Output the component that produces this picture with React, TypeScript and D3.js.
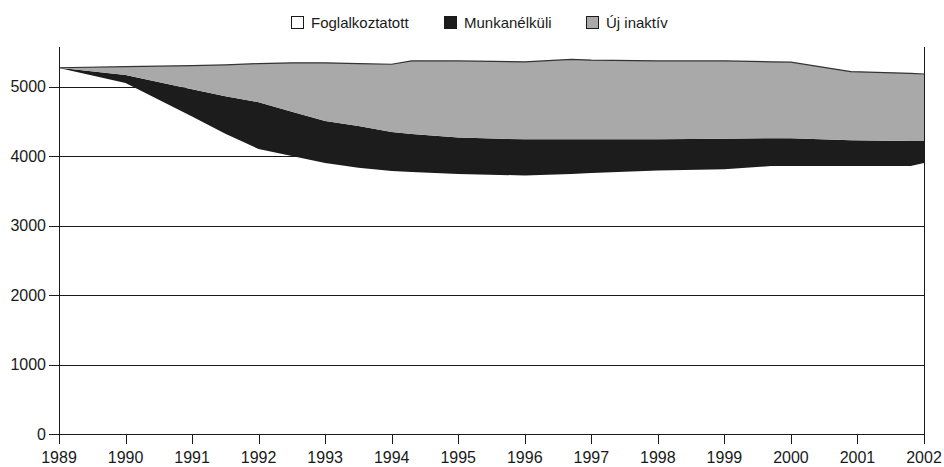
import React, { useEffect, useRef } from "react";
import * as d3 from "d3";

// readings (thousand persons), stacked bottom to top
const years = [1989, 1990, 1991, 1991.5, 1992, 1992.5, 1993, 1993.5, 1994, 1994.3, 1995, 1996, 1996.7, 1997, 1998, 1999, 1999.7, 2000, 2000.9, 2001.8, 2002];
const employed = [5265, 5050, 4570, 4320, 4100, 4000, 3900, 3830, 3785, 3770, 3740, 3720, 3740, 3755, 3790, 3810, 3855, 3855, 3855, 3855, 3900];
const unemployed = [5, 115, 390, 540, 675, 635, 605, 600, 560, 545, 525, 520, 500, 485, 450, 440, 400, 400, 370, 360, 315];
const inactive = [0, 120, 340, 450, 555, 705, 835, 900, 975, 1055, 1103, 1115, 1150, 1140, 1128, 1118, 1100, 1095, 990, 975, 965];

const seriesKeys = ["employed", "unemployed", "inactive"];
const seriesNames = ["Foglalkoztatott", "Munkanélküli", "Új inaktív"];
const seriesColors = ["#ffffff", "#1c1c1c", "#a9a9a9"];

const xTicks = d3.range(1989, 2003);
const yTicks = [0, 1000, 2000, 3000, 4000, 5000];

const WIDTH = 944;
const HEIGHT = 467;
const FONT = "'Liberation Sans', Arial, sans-serif";

export default function App() {
  const ref = useRef<SVGSVGElement>(null);

  useEffect(() => {
    const svg = d3.select(ref.current);
    svg.selectAll("*").remove();

    const left = 59;
    const right = 924;
    const top = 47;
    const bottom = 434;

    const table = years.map((yr, i) => ({
      year: yr,
      employed: employed[i],
      unemployed: unemployed[i],
      inactive: inactive[i],
    }));

    const stacked = d3.stack<any>().keys(seriesKeys)(table);

    const x = d3.scaleLinear().domain([1989, 2002]).range([left, right]);
    const y = d3.scaleLinear().domain([0, 5000]).range([bottom, 86.5]);

    const area = d3
      .area<any>()
      .x((d) => x(d.data.year))
      .y0((d) => y(d[0]))
      .y1((d) => y(d[1]));

    // employed area (white) under the grid
    svg.append("path")
      .attr("d", area(stacked[0] as any))
      .attr("fill", seriesColors[0]);

    // grid
    svg.append("g")
      .selectAll("line")
      .data(yTicks)
      .enter()
      .append("line")
      .attr("x1", left - 10)
      .attr("x2", right)
      .attr("y1", (d) => Math.round(y(d)) + 0.5)
      .attr("y2", (d) => Math.round(y(d)) + 0.5)
      .attr("stroke", "#1a1a1a")
      .attr("stroke-width", 1);

    // upper areas
    svg.append("g")
      .selectAll("path")
      .data(stacked.slice(1))
      .enter()
      .append("path")
      .attr("d", (d) => area(d as any))
      .attr("fill", (d, i) => seriesColors[i + 1]);

    // outline on top of the stack
    const topLine = d3
      .line<any>()
      .x((d) => x(d.data.year))
      .y((d) => y(d[1]));
    svg.append("path")
      .attr("d", topLine(stacked[2] as any))
      .attr("fill", "none")
      .attr("stroke", "#333")
      .attr("stroke-width", 1.2);

    // frame lines left and right
    svg.append("line")
      .attr("x1", left + 0.5).attr("x2", left + 0.5)
      .attr("y1", top).attr("y2", bottom + 10)
      .attr("stroke", "#1a1a1a");
    svg.append("line")
      .attr("x1", right + 0.5).attr("x2", right + 0.5)
      .attr("y1", top).attr("y2", bottom + 10)
      .attr("stroke", "#1a1a1a");

    svg.append("g")
      .selectAll("text")
      .data(yTicks)
      .enter()
      .append("text")
      .attr("x", left - 13)
      .attr("y", (d) => y(d))
      .attr("dy", "0.36em")
      .attr("text-anchor", "end")
      .style("font-family", FONT)
      .style("font-size", "16px")
      .attr("fill", "#1a1a1a")
      .text((d) => String(d));

    // x axis ticks
    svg.append("g")
      .selectAll("line")
      .data(xTicks)
      .enter()
      .append("line")
      .attr("x1", (d) => Math.round(x(d)) + 0.5)
      .attr("x2", (d) => Math.round(x(d)) + 0.5)
      .attr("y1", bottom)
      .attr("y2", bottom + 10)
      .attr("stroke", "#1a1a1a");

    svg.append("g")
      .selectAll("text")
      .data(xTicks)
      .enter()
      .append("text")
      .attr("x", (d) => x(d))
      .attr("y", 463)
      .attr("text-anchor", "middle")
      .style("font-family", FONT)
      .style("font-size", "16px")
      .attr("fill", "#1a1a1a")
      .text((d) => String(d));

    // legend
    const legendX = [291, 444, 586];
    const legend = svg.append("g");
    seriesNames.forEach((name, i) => {
      legend.append("rect")
        .attr("x", legendX[i] + 0.5)
        .attr("y", 16.5)
        .attr("width", 12)
        .attr("height", 12)
        .attr("fill", i === 0 ? "#fff" : seriesColors[i])
        .attr("stroke", "#1a1a1a")
        .attr("stroke-width", 1);
      legend.append("text")
        .attr("x", legendX[i] + 20)
        .attr("y", 28)
        .style("font-family", FONT)
        .style("font-size", "15px")
        .attr("fill", "#1a1a1a")
        .text(name);
    });
  }, []);

  return (
    <svg
      ref={ref}
      width={WIDTH}
      height={HEIGHT}
      viewBox={"0 0 " + WIDTH + " " + HEIGHT}
      style={{ position: "absolute", left: 0, top: 0, background: "#fff" }}
    />
  );
}
